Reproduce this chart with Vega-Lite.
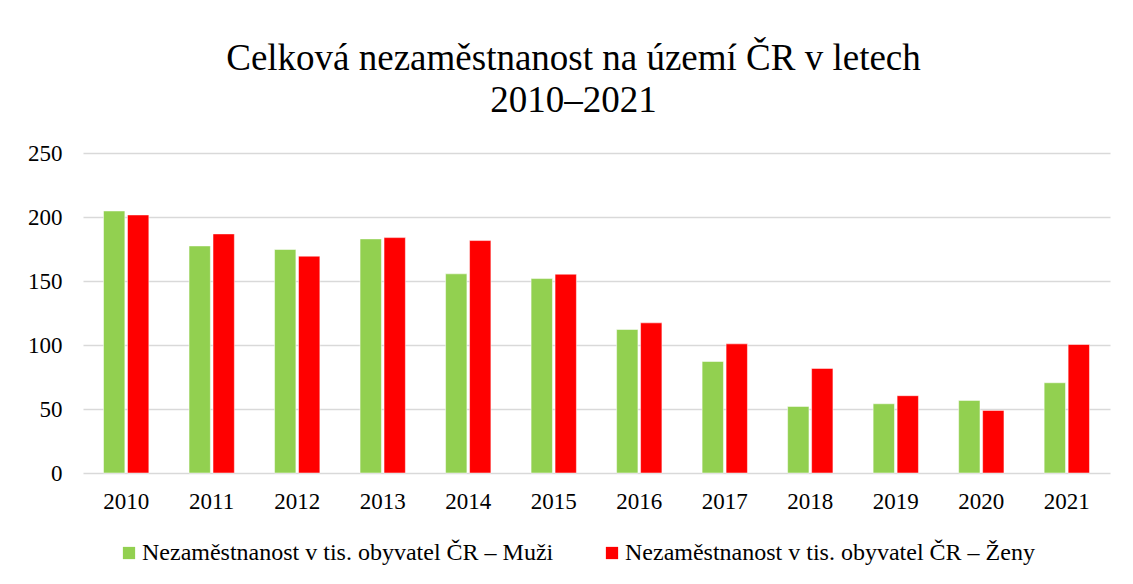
{
  "$schema": "https://vega.github.io/schema/vega-lite/v6.json",
  "width": 1027,
  "height": 320,
  "autosize": {"type": "none"},
  "padding": {"left": 83, "top": 153, "right": 23, "bottom": 111},
  "background": "white",
  "title": {
    "text": ["Celková nezaměstnanost na území ČR v letech", "2010–2021"],
    "font": "Liberation Serif",
    "fontSize": 37,
    "fontWeight": "normal",
    "color": "#000000",
    "lineHeight": 42,
    "anchor": "middle",
    "offset": 22,
    "dx": -23
  },
  "data": {
    "values": [
      {"rok": "2010", "serie": "Nezaměstnanost v tis. obyvatel ČR – Muži", "hodnota": 204.7},
      {"rok": "2010", "serie": "Nezaměstnanost v tis. obyvatel ČR – Ženy", "hodnota": 201.6},
      {"rok": "2011", "serie": "Nezaměstnanost v tis. obyvatel ČR – Muži", "hodnota": 177.4},
      {"rok": "2011", "serie": "Nezaměstnanost v tis. obyvatel ČR – Ženy", "hodnota": 186.8},
      {"rok": "2012", "serie": "Nezaměstnanost v tis. obyvatel ČR – Muži", "hodnota": 174.6},
      {"rok": "2012", "serie": "Nezaměstnanost v tis. obyvatel ČR – Ženy", "hodnota": 169.4},
      {"rok": "2013", "serie": "Nezaměstnanost v tis. obyvatel ČR – Muži", "hodnota": 182.9},
      {"rok": "2013", "serie": "Nezaměstnanost v tis. obyvatel ČR – Ženy", "hodnota": 183.9},
      {"rok": "2014", "serie": "Nezaměstnanost v tis. obyvatel ČR – Muži", "hodnota": 155.6},
      {"rok": "2014", "serie": "Nezaměstnanost v tis. obyvatel ČR – Ženy", "hodnota": 181.6},
      {"rok": "2015", "serie": "Nezaměstnanost v tis. obyvatel ČR – Muži", "hodnota": 151.9},
      {"rok": "2015", "serie": "Nezaměstnanost v tis. obyvatel ČR – Ženy", "hodnota": 155.3},
      {"rok": "2016", "serie": "Nezaměstnanost v tis. obyvatel ČR – Muži", "hodnota": 112.1},
      {"rok": "2016", "serie": "Nezaměstnanost v tis. obyvatel ČR – Ženy", "hodnota": 117.3},
      {"rok": "2017", "serie": "Nezaměstnanost v tis. obyvatel ČR – Muži", "hodnota": 87.1},
      {"rok": "2017", "serie": "Nezaměstnanost v tis. obyvatel ČR – Ženy", "hodnota": 100.9},
      {"rok": "2018", "serie": "Nezaměstnanost v tis. obyvatel ČR – Muži", "hodnota": 52.0},
      {"rok": "2018", "serie": "Nezaměstnanost v tis. obyvatel ČR – Ženy", "hodnota": 81.7},
      {"rok": "2019", "serie": "Nezaměstnanost v tis. obyvatel ČR – Muži", "hodnota": 54.1},
      {"rok": "2019", "serie": "Nezaměstnanost v tis. obyvatel ČR – Ženy", "hodnota": 60.4},
      {"rok": "2020", "serie": "Nezaměstnanost v tis. obyvatel ČR – Muži", "hodnota": 56.7},
      {"rok": "2020", "serie": "Nezaměstnanost v tis. obyvatel ČR – Ženy", "hodnota": 48.9},
      {"rok": "2021", "serie": "Nezaměstnanost v tis. obyvatel ČR – Muži", "hodnota": 70.5},
      {"rok": "2021", "serie": "Nezaměstnanost v tis. obyvatel ČR – Ženy", "hodnota": 100.4}
    ]
  },
  "mark": {"type": "bar", "stroke": "white", "strokeWidth": 0.5},
  "encoding": {
    "x": {
      "field": "rok",
      "type": "nominal",
      "title": null,
      "scale": {"paddingInner": 0.47, "paddingOuter": 0.24},
      "axis": {
        "labelAngle": 0,
        "labelFont": "Liberation Serif",
        "labelFontSize": 23,
        "labelColor": "#000000",
        "labelPadding": 17,
        "ticks": false,
        "domain": false,
        "grid": false
      }
    },
    "xOffset": {
      "field": "serie",
      "type": "nominal",
      "scale": {"paddingInner": 0.11}
    },
    "y": {
      "field": "hodnota",
      "type": "quantitative",
      "title": null,
      "scale": {"domain": [0, 250], "nice": false},
      "axis": {
        "values": [0, 50, 100, 150, 200, 250],
        "labelFont": "Liberation Serif",
        "labelFontSize": 23,
        "labelColor": "#000000",
        "labelPadding": 21,
        "ticks": false,
        "domain": false,
        "grid": true,
        "gridColor": "#d9d9d9",
        "gridWidth": 1.5
      }
    },
    "color": {
      "field": "serie",
      "type": "nominal",
      "title": null,
      "scale": {"range": ["#92d050", "#ff0000"]},
      "legend": {
        "orient": "none",
        "legendX": 34,
        "legendY": 388,
        "direction": "horizontal",
        "symbolType": "square",
        "symbolSize": 150,
        "symbolStrokeWidth": 0,
        "symbolOpacity": 1,
        "labelFont": "Liberation Serif",
        "labelFontSize": 24,
        "labelColor": "#000000",
        "labelLimit": 600,
        "labelOffset": 1,
        "columnPadding": 46
      }
    }
  },
  "config": {
    "view": {"stroke": null}
  }
}
